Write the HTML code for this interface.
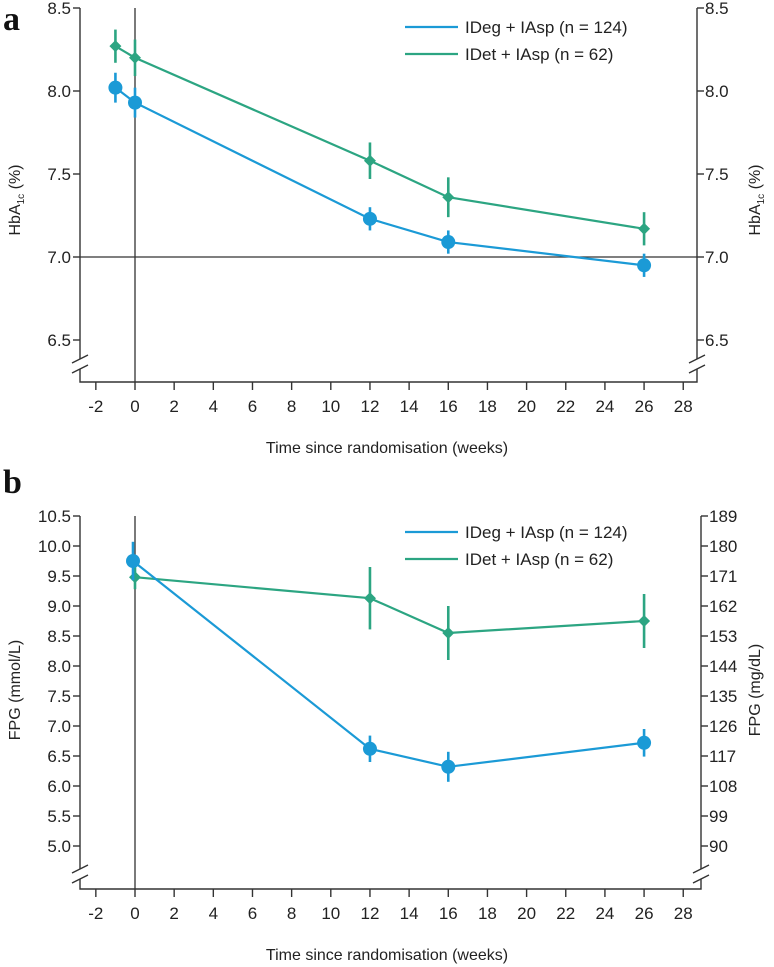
<!DOCTYPE html>
<html><head><meta charset="utf-8"><style>
body{margin:0;background:#fff}
svg{display:block;font-family:"Liberation Sans",Arial,sans-serif}
.tk{font-size:17px;fill:#222}
.ttl{font-size:16px;fill:#222}
.ax{stroke:#333;stroke-width:1.4;fill:none}
</style></head><body>
<svg id="chart" width="774" height="967" viewBox="0 0 774 967" xmlns="http://www.w3.org/2000/svg"></svg>
<script>
const weeksTicks=[-2,0,2,4,6,8,10,12,14,16,18,20,22,24,26,28];
const aWeeks=[-1,0,12,16,26];
const aIDeg=[8.02,7.93,7.23,7.09,6.95];
const aIDegErr=[0.09,0.09,0.07,0.07,0.07];
const aIDet=[8.27,8.20,7.58,7.36,7.17];
const aIDetErr=[0.10,0.11,0.11,0.12,0.10];
const aYTicks=[8.5,8.0,7.5,7.0,6.5];
const bWeeks=[0,12,16,26];
const bIDeg=[9.75,6.62,6.32,6.72];
const bIDegErr=[0.32,0.22,0.25,0.23];
const bIDet=[9.48,9.13,8.55,8.75];
const bIDetErr=[0.20,0.52,0.45,0.45];
const bYTicks=[10.5,10.0,9.5,9.0,8.5,8.0,7.5,7.0,6.5,6.0,5.5,5.0];
const bYTicksR=[189,180,171,162,153,144,135,126,117,108,99,90];
const series=["IDeg + IAsp (n = 124)","IDet + IAsp (n = 62)"];
const BLUE="#1b9ad6",GREEN="#2ca582";
const NS="http://www.w3.org/2000/svg";
const svg=document.getElementById('chart');
function el(tag,attrs,parent,text){const e=document.createElementNS(NS,tag);for(const k in attrs)e.setAttribute(k,attrs[k]);if(text!==undefined)e.textContent=text;(parent||svg).appendChild(e);return e;}
const xs=w=>135+w*19.58;

function panel(cfg){
  const g=el('g',{});
  
  
  const ys=cfg.ys, L=80, R=cfg.right, B=cfg.axisY;
  const lt=el('text',{x:3,y:cfg.letterY,'font-family':'Liberation Serif,serif','font-weight':'bold','font-size':34,fill:'#111'},g,cfg.letter);
  
  
  const la=el('path',{class:'ax',d:`M${L} ${cfg.top}V${cfg.brk-6}M${L} ${cfg.brk+4}V${B}H${R}V${cfg.brk+4}M${R} ${cfg.brk-6}V${cfg.top}`},g);
  
  
  [L,R].forEach(x=>{
    const b=el('path',{class:'ax',d:`M${x-8} ${cfg.brk-2}L${x+8} ${cfg.brk-10}M${x-8} ${cfg.brk+8}L${x+8} ${cfg.brk}`},g);
    
    
  });
  cfg.yTicks.forEach(v=>{
    const y=ys(v);
    el('line',{class:'ax',x1:L-7,x2:L,y1:y,y2:y},g);
    const t=el('text',{class:'tk',x:L-9,y:y+6,'text-anchor':'end'},g,v.toFixed(1));
    
    
  });
  cfg.yTicksR.forEach((lab,i)=>{
    const y=ys(cfg.yTicks[i]);
    el('line',{class:'ax',x1:R,x2:R+7,y1:y,y2:y},g);
    const t=el('text',{class:'tk',x:R+8,y:y+6},g,lab);
    
    
  });
  weeksTicks.forEach(w=>{
    const x=xs(w);
    el('line',{class:'ax',x1:x,x2:x,y1:B,y2:B+8},g);
    const t=el('text',{class:'tk',x:x,y:B+30,'text-anchor':'middle'},g,w);
    
    
  });
  const xt=el('text',{class:'ttl',x:387,y:cfg.xTitleY,'text-anchor':'middle'},g,'Time since randomisation (weeks)');
  
  
  [[20,'y-axis-title',0],[760,'y-axis-right-title',1]].forEach(([x,n,side])=>{
    const t=el('text',{class:'ttl',transform:`translate(${x},${cfg.yTitleY}) rotate(-90)`,'text-anchor':'middle','font-size':17},g);
    
    
    cfg.yTitle(t,side);
  });
  el('line',{stroke:'#333','stroke-width':1.3,x1:xs(0),x2:xs(0),y1:cfg.top,y2:B},g);
  if(cfg.hRef!==undefined) el('line',{stroke:'#333','stroke-width':1.3,x1:L,x2:R,y1:ys(cfg.hRef),y2:ys(cfg.hRef)},g);
  const sets=[[cfg.det,cfg.detErr,GREEN,'diamond','idet-series'],[cfg.deg,cfg.degErr,BLUE,'circle','ideg-series']];
  sets.forEach(([vals,errs,col,shape,name])=>{
    const sg=el('g',{},g);
    
    
    const xo=(name==='ideg-series'&&cfg.degShift)?cfg.degShift:0;
    const pts=vals.map((v,i)=>[xs(cfg.weeks[i])+(cfg.weeks[i]===0?xo:0),ys(v)]);
    const pl=el('polyline',{points:pts.map(p=>p.join(',')).join(' '),fill:'none',stroke:col,'stroke-width':2.2},sg);
    
    
    vals.forEach((v,i)=>{
      const [x,y]=pts[i];
      const eb=el('line',{x1:x,x2:x,y1:ys(v+errs[i]),y2:ys(v-errs[i]),stroke:col,'stroke-width':2.6},sg);
      
      
      let m;
      if(shape==='circle') m=el('circle',{cx:x,cy:y,r:7,fill:col},sg);
      else m=el('path',{d:`M${x} ${y-6}L${x+6} ${y}L${x} ${y+6}L${x-6} ${y}Z`,fill:col},sg);
      
      
    });
  });
  [[BLUE,0],[GREEN,1]].forEach(([col,i])=>{
    const y=cfg.legY+i*27;
    const lg=el('g',{},g);
    
    
    el('line',{x1:405,x2:458,y1:y,y2:y,stroke:col,'stroke-width':2.2},lg);
    el('text',{x:465,y:y+6,'font-size':17,fill:'#222'},lg,series[i]);
  });
}
function hbTitle(t){el('tspan',{},t,'HbA');el('tspan',{'font-size':10,dy:4},t,'1c');el('tspan',{dy:-4},t,' (%)');}
function fpgTitle(t,side){t.textContent=side===0?'FPG (mmol/L)':'FPG (mg/dL)';}
panel({name:'panel-a-hba1c',letter:'a',letterY:30,ys:v=>8+(8.5-v)*166,top:8,brk:365,axisY:382,right:697,
  yTicks:aYTicks,yTicksR:aYTicks.map(v=>v.toFixed(1)),xTitleY:453,yTitleY:200,yTitle:hbTitle,hRef:7.0,
  weeks:aWeeks,deg:aIDeg,degErr:aIDegErr,det:aIDet,detErr:aIDetErr,legY:27});
panel({name:'panel-b-fpg',letter:'b',letterY:493,ys:v=>516+(10.5-v)*60,top:516,brk:875,axisY:889,right:701,
  yTicks:bYTicks,yTicksR:bYTicksR,xTitleY:960,yTitleY:690,yTitle:fpgTitle,
  weeks:bWeeks,deg:bIDeg,degErr:bIDegErr,det:bIDet,detErr:bIDetErr,legY:532,degShift:-2});
</script>
</body></html>
